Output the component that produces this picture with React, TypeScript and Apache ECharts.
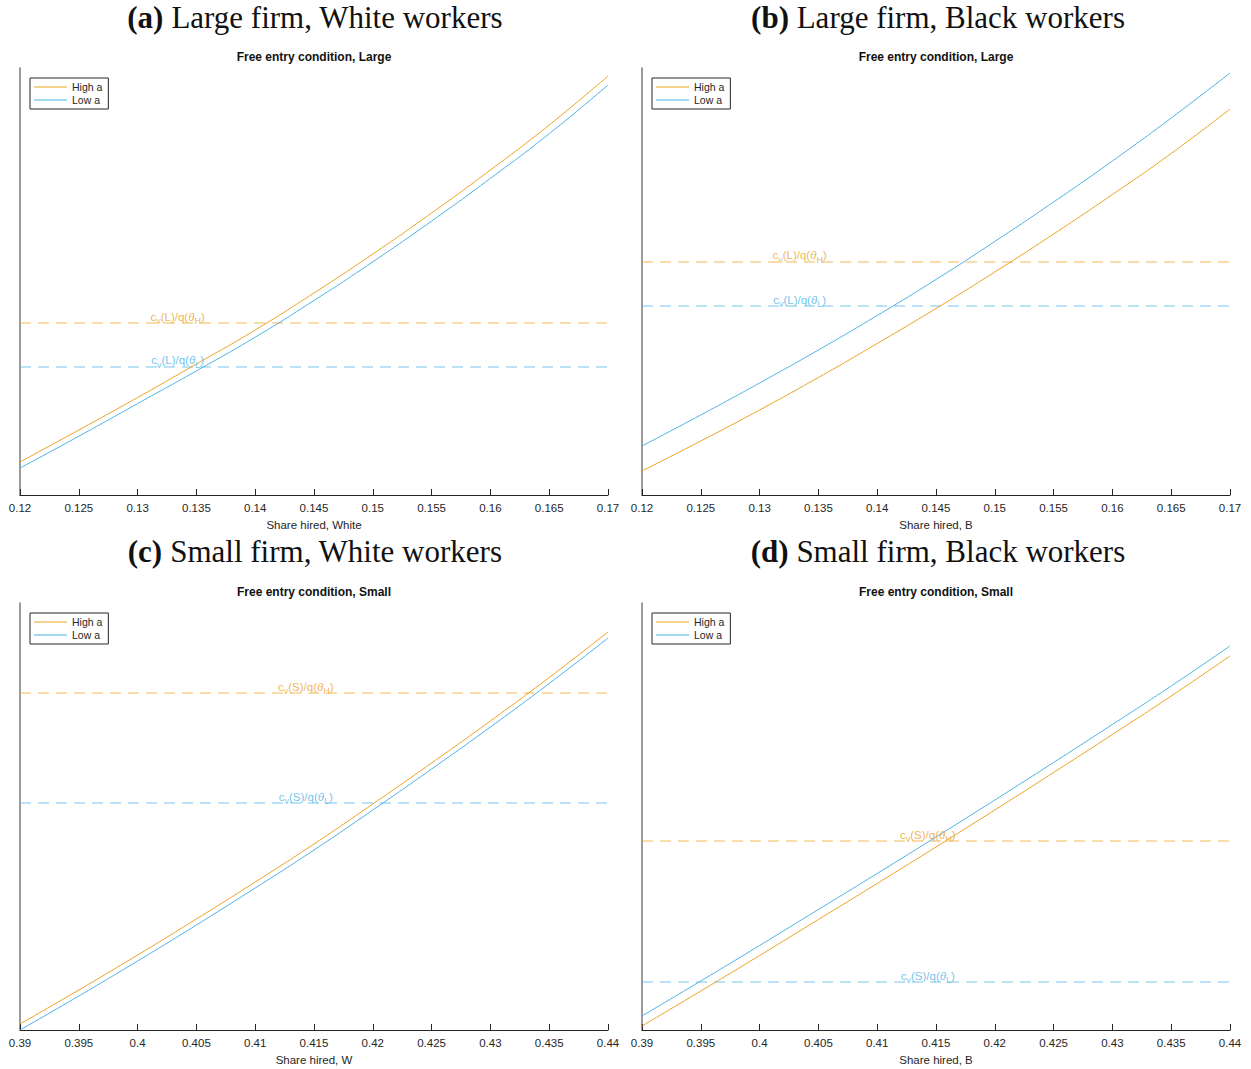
import React, { useEffect, useRef } from 'react';
import * as echarts from 'echarts';

// ---- data (y in arbitrary index units, axis has no labels) ----
const shareTop = [0.12, 0.125, 0.13, 0.135, 0.14, 0.145, 0.15, 0.155, 0.16, 0.165, 0.17];
const shareBottom = [0.39, 0.395, 0.4, 0.405, 0.41, 0.415, 0.42, 0.425, 0.43, 0.435, 0.44];

const largeWhiteHigh = [7.73, 15.22, 22.83, 30.68, 38.64, 47.31, 56.44, 66.04, 76.11, 86.65, 98.13];
const largeWhiteLow = [6.32, 13.75, 21.41, 29.06, 36.96, 45.55, 54.61, 64.15, 74.15, 84.61, 96.02];
const largeWhiteCost = [40.28, 29.98]; // [theta_H, theta_L]

const largeBlackHigh = [5.62, 12.65, 19.91, 27.52, 35.48, 43.68, 52.22, 61.12, 70.37, 79.98, 90.4];
const largeBlackLow = [11.48, 18.74, 26.23, 33.96, 42.04, 50.47, 59.37, 68.62, 78.22, 88.29, 98.83];
const largeBlackCost = [54.57, 44.26];

const smallWhiteHigh = [1.41, 9.37, 17.56, 26.0, 34.66, 43.56, 52.93, 62.53, 72.37, 82.55, 93.21];
const smallWhiteLow = [0.0, 7.96, 16.16, 24.59, 33.26, 42.15, 51.52, 61.12, 70.96, 81.15, 91.8];
const smallWhiteCost = [78.92, 53.16];

const smallBlackHigh = [0.94, 9.13, 17.45, 25.88, 34.31, 42.86, 51.52, 60.3, 69.2, 78.22, 87.59];
const smallBlackLow = [3.28, 11.48, 19.79, 28.22, 36.65, 45.2, 53.86, 62.65, 71.55, 80.56, 89.93];
const smallBlackCost = [44.26, 11.24];

const costLabelX = [0.1334, 0.1334, 0.4143, 0.4143];
const panelLetters = ['(a)', '(b)', '(c)', '(d)'];
const panelHeaders = ['Large firm, White workers', 'Large firm, Black workers', 'Small firm, White workers', 'Small firm, Black workers'];
const chartTitles = ['Free entry condition, Large', 'Free entry condition, Large', 'Free entry condition, Small', 'Free entry condition, Small'];
const xNames = ['Share hired, White', 'Share hired, B', 'Share hired, W', 'Share hired, B'];
const firmTags = ['L', 'L', 'S', 'S'];
const legendNames = ['High a', 'Low a'];

// ---- styling / layout ----
const ORANGE = '#ECA323';
const BLUE = '#4DB3E6';
const SANS = '"Liberation Sans", Arial, Helvetica, sans-serif';
const SERIF = '"Liberation Serif", "Times New Roman", serif';
const INK = '#262626';

const layouts = [
  { left: 20, top: 68, header: 17, title: 57, cx: 314, hx: 315 },
  { left: 642, top: 68, header: 17, title: 57, cx: 936, hx: 938 },
  { left: 20, top: 603, header: 551, title: 592, cx: 314, hx: 315 },
  { left: 642, top: 603, header: 551, title: 592, cx: 936, hx: 938 },
];
const GW = 588;
const GH = 427;

function costLabel(tag: string, theta: string, color: string) {
  return {
    show: true,
    position: 'top',
    distance: 0,
    offset: [0, 3],
    formatter: `{m|c}{s|v}{m|(${tag})/q(}{i|θ}{s|${theta}}{m|)}`,
    rich: {
      m: { fontSize: 11.5, color, fontFamily: SANS },
      i: { fontSize: 11.5, color, fontFamily: SANS, fontStyle: 'italic' },
      s: { fontSize: 9, color, fontFamily: SANS, padding: [9, 0, 0, 0] },
    },
  };
}

export default function App() {
  const ref = useRef<HTMLDivElement>(null);

  useEffect(() => {
    if (!ref.current) return;
    const chart = echarts.init(ref.current, undefined, { renderer: 'svg' });

    const panels = [
      { xs: shareTop, high: largeWhiteHigh, low: largeWhiteLow, cost: largeWhiteCost },
      { xs: shareTop, high: largeBlackHigh, low: largeBlackLow, cost: largeBlackCost },
      { xs: shareBottom, high: smallWhiteHigh, low: smallWhiteLow, cost: smallWhiteCost },
      { xs: shareBottom, high: smallBlackHigh, low: smallBlackLow, cost: smallBlackCost },
    ];

    const grid: any[] = [];
    const xAxis: any[] = [];
    const yAxis: any[] = [];
    const title: any[] = [];
    const legend: any[] = [];
    const series: any[] = [];

    panels.forEach((p, k) => {
      const L = layouts[k];
      grid.push({ left: L.left, top: L.top, width: GW, height: GH, containLabel: false });
      const xmin = p.xs[0];
      const xmax = p.xs[p.xs.length - 1];
      xAxis.push({
        gridIndex: k,
        type: 'value',
        min: xmin,
        max: xmax,
        interval: 0.005,
        name: xNames[k],
        nameLocation: 'middle',
        nameGap: 24,
        nameTextStyle: { fontSize: 11.5, color: INK, fontFamily: SANS },
        axisLine: { show: true, onZero: false, lineStyle: { color: INK, width: 1 } },
        axisTick: { show: true, inside: true, length: 6, lineStyle: { color: INK } },
        axisLabel: {
          fontSize: 11.5,
          color: INK,
          fontFamily: SANS,
          margin: 7,
          formatter: (v: number) => String(Math.round(v * 1000) / 1000),
        },
        splitLine: { show: false },
      });
      yAxis.push({
        gridIndex: k,
        type: 'value',
        min: 0,
        max: 100,
        axisLine: { show: true, onZero: false, lineStyle: { color: '#7a7a7a', width: 1.5 } },
        axisTick: { show: false },
        axisLabel: { show: false },
        splitLine: { show: false },
      });
      title.push({
        text: `{b|${panelLetters[k]}} ${panelHeaders[k]}`,
        left: L.hx,
        top: L.header,
        textAlign: 'center',
        textVerticalAlign: 'middle',
        padding: 0,
        textStyle: {
          fontSize: 31,
          fontWeight: 'normal',
          color: '#111',
          fontFamily: SERIF,
          rich: {
            b: { fontSize: 31, fontWeight: 'bold', color: '#111', fontFamily: SERIF },
          },
        },
      });
      title.push({
        text: chartTitles[k],
        left: L.cx,
        top: L.title,
        textAlign: 'center',
        textVerticalAlign: 'middle',
        padding: 0,
        textStyle: { fontSize: 12, fontWeight: 'bold', color: '#111', fontFamily: SANS },
      });
      legend.push({
        data: legendNames,
        orient: 'vertical',
        left: L.left + 10,
        top: L.top + 10,
        icon: 'rect',
        itemWidth: 33,
        itemHeight: 1,
        itemGap: 1,
        padding: [3, 6, 3, 4],
        borderColor: INK,
        borderWidth: 1,
        backgroundColor: '#fff',
        selectedMode: false,
        textStyle: { fontSize: 10.5, color: INK, fontFamily: SANS, lineHeight: 12 },
      });

      const dashColors = [ORANGE, BLUE];
      const thetas = ['H', 'L'];
      p.cost.forEach((c, j) => {
        series.push({
          type: 'line',
          name: `cost ${thetas[j]} ${k}`,
          xAxisIndex: k,
          yAxisIndex: k,
          data: [
            [xmin, c],
            [xmax, c],
          ],
          symbol: 'none',
          silent: true,
          lineStyle: { color: dashColors[j], width: 1, type: [11, 7], opacity: 0.75 },
          itemStyle: { color: dashColors[j] },
          z: 1,
        });
      });
      series.push({
        type: 'scatter',
        name: `labels ${k}`,
        xAxisIndex: k,
        yAxisIndex: k,
        symbolSize: 1,
        itemStyle: { color: 'rgba(0,0,0,0)' },
        silent: true,
        data: p.cost.map((c, j) => ({
          value: [costLabelX[k], c],
          label: costLabel(firmTags[k], thetas[j], dashColors[j]),
        })),
        z: 3,
      });
      series.push({
        type: 'line',
        name: legendNames[0],
        xAxisIndex: k,
        yAxisIndex: k,
        data: p.xs.map((x, i) => [x, p.high[i]]),
        symbol: 'none',
        smooth: true,
        lineStyle: { color: ORANGE, width: 1 },
        itemStyle: { color: ORANGE },
        z: 2,
      });
      series.push({
        type: 'line',
        name: legendNames[1],
        xAxisIndex: k,
        yAxisIndex: k,
        data: p.xs.map((x, i) => [x, p.low[i]]),
        symbol: 'none',
        smooth: true,
        lineStyle: { color: BLUE, width: 1 },
        itemStyle: { color: BLUE },
        z: 2,
      });
    });

    chart.setOption({
      animation: false,
      backgroundColor: '#fff',
      grid,
      xAxis,
      yAxis,
      title,
      legend,
      series,
    });

    return () => chart.dispose();
  }, []);

  return (
    <div
      ref={ref}
      style={{ position: 'absolute', left: 0, top: 0, width: 1251, height: 1069, background: '#fff' }}
    />
  );
}
